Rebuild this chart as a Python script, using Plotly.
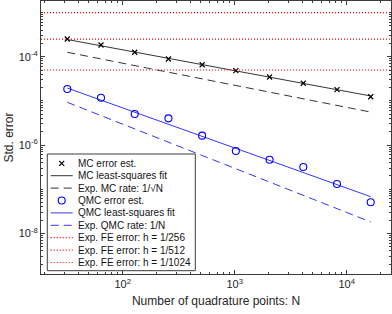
import plotly.graph_objects as go

# ---- data ----
N = [32, 64, 128, 256, 512, 1024, 2048, 4096, 8192, 16384]
mc_err = [2.52e-4, 1.84e-4, 1.26e-4, 8.87e-5, 6.59e-5, 4.82e-5, 3.47e-5, 2.50e-5, 1.79e-5, 1.24e-5]
qmc_err = [1.85e-5, 1.18e-5, 5.04e-6, 4.02e-6, 1.63e-6, 7.31e-7, 4.65e-7, 3.18e-7, 1.31e-7, 5.04e-8]

fit_N = [32, 16384]
mc_fit = [2.45e-4, 1.29e-5]
qmc_fit = [1.95e-5, 6.75e-8]
mc_rate = [1.26e-4, 5.57e-6]
qmc_rate = [9.27e-6, 1.81e-8]

x_limits = [18.64, 24860]
fe_err = [1.0e-3, 2.5e-4, 5.0e-5]
fe_labels = ["Exp. FE error: h = 1/256", "Exp. FE error: h = 1/512", "Exp. FE error: h = 1/1024"]

y_ticks = [1e-4, 1e-6, 1e-8]
y_ticktext = ["10<sup>-4</sup>", "10<sup>-6</sup>", "10<sup>-8</sup>"]
x_ticks = [1e2, 1e3, 1e4]
x_ticktext = ["10<sup>2</sup>", "10<sup>3</sup>", "10<sup>4</sup>"]

BLUE = "rgb(0,0,255)"
RED = "rgb(255,0,0)"
AX = "rgb(60,60,60)"
TXT = "rgb(38,38,38)"
FONT = "Liberation Sans, Arial, sans-serif"
DASH = "8px,5px"
DOT = "1px,2px"

styles = [
    dict(name="MC error est.", kind="marker", symbol="x-thin-open", size=5, color="black", lw=1.2),
    dict(name="MC least-squares fit", kind="line", color="black", lw=0.8, dash="solid"),
    dict(name="Exp. MC rate: 1/√N", kind="line", color="black", lw=0.8, dash=DASH),
    dict(name="QMC error est.", kind="marker", symbol="circle-open", size=7, color=BLUE, lw=1.1),
    dict(name="QMC least-squares fit", kind="line", color=BLUE, lw=0.8, dash="solid"),
    dict(name="Exp. QMC rate: 1/N", kind="line", color=BLUE, lw=0.8, dash=DASH),
] + [dict(name=lab, kind="line", color=RED, lw=1.2, dash=DOT) for lab in fe_labels]

series = [(N, mc_err), (fit_N, mc_fit), (fit_N, mc_rate),
          (N, qmc_err), (fit_N, qmc_fit), (fit_N, qmc_rate)] + \
         [(x_limits, [v, v]) for v in fe_err]

fig = go.Figure()
for (xs, ys), st in zip(series, styles):
    if st["kind"] == "marker":
        fig.add_trace(go.Scatter(x=xs, y=ys, mode="markers", name=st["name"], showlegend=False,
                                 marker=dict(symbol=st["symbol"], size=st["size"], color=st["color"],
                                             line=dict(width=st["lw"], color=st["color"]))))
    else:
        fig.add_trace(go.Scatter(x=xs, y=ys, mode="lines", name=st["name"], showlegend=False,
                                 line=dict(color=st["color"], width=st["lw"], dash=st["dash"])))

# ---- manual legend (compact MATLAB-like) ----
W, H = 392, 314
L, R, T, B = 41, 1, 1, 40
pw, ph = W - L - R, H - T - B
px = lambda v: (v - L) / pw
py = lambda v: (H - B - v) / ph

box = (47.3, 154.0, 195.3, 270.7)
row0, rowstep = 163.3, 12.4
shapes = [dict(type="rect", xref="paper", yref="paper", layer="below",
               x0=px(box[0]), x1=px(box[2]), y0=py(box[3]), y1=py(box[1]),
               line=dict(color=AX, width=1), fillcolor="white")]
annotations = []
mk_x, mk_y, mk_sym, mk_col, mk_size, mk_lw = [], [], [], [], [], []
for i, st in enumerate(styles):
    yy = row0 + rowstep * i
    if st["kind"] == "line":
        shapes.append(dict(type="line", xref="paper", yref="paper",
                           x0=px(50.7), x1=px(72.7), y0=py(yy), y1=py(yy),
                           line=dict(color=st["color"], width=st["lw"], dash=st["dash"])))
    else:
        mk_x.append(px(61.7)); mk_y.append(py(yy)); mk_sym.append(st["symbol"])
        mk_col.append(st["color"]); mk_size.append(st["size"]); mk_lw.append(st["lw"])
    annotations.append(dict(xref="paper", yref="paper", x=px(76.0), y=py(yy), text=st["name"],
                            showarrow=False, xanchor="left", yanchor="middle",
                            font=dict(family=FONT, size=10, color="rgb(20,20,20)")))
for xx, yy, sy, c, s, lw in zip(mk_x, mk_y, mk_sym, mk_col, mk_size, mk_lw):
    fig.add_trace(go.Scatter(x=[xx], y=[yy], xaxis="x2", yaxis="y2", mode="markers", showlegend=False,
                             hoverinfo="skip",
                             marker=dict(symbol=sy, size=s, color=c, line=dict(width=lw, color=c))))

minor_y = [m * 10.0 ** e for e in range(-10, -1) for m in range(1, 10)]
minor_x = [m * 10.0 ** e for e in range(1, 5) for m in range(1, 10)]

axis_common = dict(type="log", showgrid=False, zeroline=False, showline=True, automargin=False,
                   linecolor=AX, linewidth=1, mirror="ticks",
                   ticks="inside", ticklen=4, tickcolor=AX,
                   tickfont=dict(family=FONT, size=11, color=TXT))

fig.update_xaxes(**axis_common, range=[1.2705, 4.3955], tickvals=x_ticks, ticktext=x_ticktext,
                 minor=dict(tickvals=minor_x, ticks="inside", ticklen=2, tickcolor=AX),
                 title=dict(text="Number of quadrature points: N", standoff=7,
                            font=dict(family=FONT, size=12, color=TXT)))
fig.update_yaxes(**axis_common, range=[-8.922, -2.738], tickvals=y_ticks, ticktext=y_ticktext,
                 minor=dict(tickvals=minor_y, ticks="inside", ticklen=2, tickcolor=AX),
                 title=dict(text="Std. error", standoff=2,
                            font=dict(family=FONT, size=12, color=TXT)))

fig.update_layout(width=W, height=H, margin=dict(l=L, r=R, t=T, b=B),
                  plot_bgcolor="white", paper_bgcolor="white",
                  font=dict(family=FONT, size=11, color=TXT),
                  xaxis2=dict(overlaying="x", range=[0, 1], visible=False, fixedrange=True),
                  yaxis2=dict(overlaying="y", range=[0, 1], visible=False, fixedrange=True),
                  shapes=shapes, annotations=annotations, showlegend=False, hovermode=False)
fig.write_html("out.html", config={"responsive": False, "displayModeBar": False},
               post_script="document.body.style.margin='0';")
